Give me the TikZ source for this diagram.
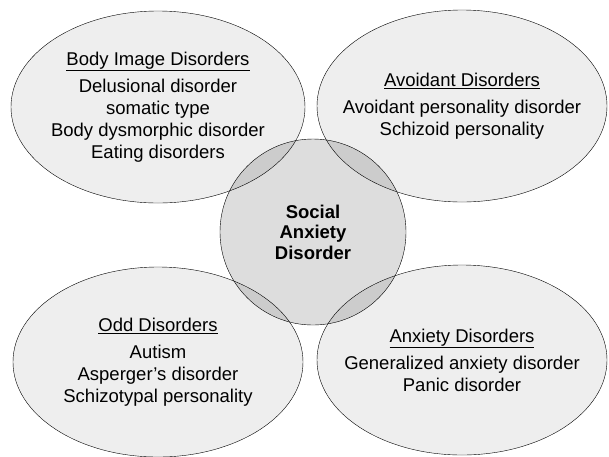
\documentclass[tikz,border=0pt]{standalone}
\usepackage{fontspec}
\setmainfont{Liberation Sans}
\definecolor{outerfill}{RGB}{238,238,238}
\definecolor{innerfill}{RGB}{221,221,221}
\definecolor{overlapfill}{RGB}{204,204,204}
\tikzset{
  outerset/.style={fill=outerfill},
  innerset/.style={fill=innerfill},
  settext/.style={align=center, inner sep=0pt, font=\fontsize{18.5}{22}\selectfont},
  middletext/.style={align=center, inner sep=0pt, font=\fontsize{18.5}{20.5}\selectfont\bfseries},
}
\begin{document}
\begin{tikzpicture}[x=1pt, y=-1pt]
    \useasboundingbox (0,0) rectangle (609,456);
    \coordinate (body) at (158,107);
    \coordinate (avoid) at (462,106);
    \coordinate (odd) at (158,362);
    \coordinate (anx) at (462,360);
    \coordinate (social) at (313,232);

    \fill[outerset] (body) ellipse [x radius=147, y radius=96];
    \fill[outerset] (avoid) ellipse [x radius=145, y radius=96];
    \fill[outerset] (odd) ellipse [x radius=145, y radius=95];
    \fill[outerset] (anx) ellipse [x radius=145, y radius=95];
    \fill[innerset] (social) circle [radius=93];

    % darker where the sets meet the middle circle
    \begin{scope}
      \clip (social) circle [radius=93];
      \fill[overlapfill] (body) ellipse [x radius=147, y radius=96];
      \fill[overlapfill] (avoid) ellipse [x radius=145, y radius=96];
      \fill[overlapfill] (odd) ellipse [x radius=145, y radius=95];
      \fill[overlapfill] (anx) ellipse [x radius=145, y radius=95];
    \end{scope}
    \draw[black] (body) ellipse [x radius=147, y radius=96];
    \draw[black] (avoid) ellipse [x radius=145, y radius=96];
    \draw[black] (odd) ellipse [x radius=145, y radius=95];
    \draw[black] (anx) ellipse [x radius=145, y radius=95];
    \draw[black] (social) circle [radius=93];

    \node[settext] (bodytext) at (body)
      {\underline{Body Image Disorders}\\[5pt] Delusional disorder\\ somatic type\\ Body dysmorphic disorder\\ Eating disorders};
    \node[settext] (avoidtext) at (avoid)
      {\underline{Avoidant Disorders}\\[5pt] Avoidant personality disorder\\ Schizoid personality};
    \node[settext] (oddtext) at (odd)
      {\underline{Odd Disorders}\\[5pt] Autism\\ Asperger's disorder\\ Schizotypal personality};
    \node[settext] (anxtext) at (anx)
      {\underline{Anxiety Disorders}\\[5pt] Generalized anxiety disorder\\ Panic disorder};
    \node[middletext] (socialtext) at (social) {Social\\ Anxiety\\ Disorder};
\end{tikzpicture}
\end{document}
